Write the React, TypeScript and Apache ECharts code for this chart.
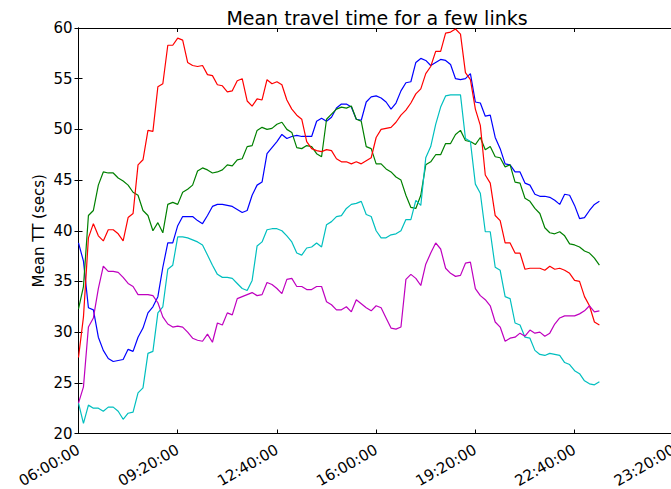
import React, { useEffect, useRef } from "react";
import * as echarts from "echarts";

// Mean travel time (secs) sampled every 10 minutes from 06:00
const STEP_MIN = 10;

const blueTT = [
  38.8, 37.0, 32.4, 32.2, 29.5, 28.2, 27.4, 27.1, 27.2, 27.3,
  28.3, 28.1, 29.5, 30.4, 31.9, 32.5, 33.5, 36.4, 38.8, 38.8,
  40.5, 41.4, 41.4, 41.4, 41.0, 40.7, 41.5, 42.4, 42.6, 42.6,
  42.5, 42.4, 42.1, 41.8, 42.0, 43.5, 44.5, 44.8, 47.6, 48.2,
  48.8, 49.5, 49.1, 49.3, 49.4, 49.3, 49.3, 49.3, 50.8, 51.1,
  50.8, 51.2, 52.1, 52.5, 52.5, 52.2, 51.0, 50.9, 52.7, 53.2,
  53.3, 53.1, 52.7, 52.0, 52.6, 53.8, 54.6, 54.7, 56.6, 57.0,
  56.8, 56.3, 56.6, 56.9, 56.8, 56.4, 55.0, 54.9, 55.0, 55.5,
  52.7, 52.6, 51.3, 51.4, 49.2, 48.1, 46.6, 46.5, 45.8, 45.8,
  44.7, 44.5, 43.6, 43.4, 43.4, 43.3, 43.0, 42.6, 43.6, 43.5,
  42.5, 41.2, 41.3, 42.0, 42.6, 42.9,
];

const greenTT = [
  32.3, 34.5, 41.5, 42.0, 44.5, 45.8, 45.7, 45.7, 45.2, 44.9,
  44.5, 43.8, 43.5, 42.0, 41.5, 40.0, 40.8, 39.8, 42.6, 42.8,
  42.6, 43.8, 44.1, 44.5, 45.9, 46.2, 46.0, 45.7, 45.8, 46.0,
  46.5, 46.4, 47.0, 47.1, 48.3, 48.4, 49.9, 50.2, 50.0, 50.1,
  50.5, 50.7, 50.0, 49.7, 48.2, 48.1, 48.4, 48.3, 47.6, 47.3,
  51.0, 51.5, 52.0, 52.2, 52.1, 52.3, 51.0, 50.8, 48.3, 48.1,
  46.6, 46.6, 46.1, 45.8, 45.3, 45.0, 43.5, 42.3, 42.2, 43.5,
  46.5, 46.8, 47.5, 47.5, 48.6, 48.6, 49.5, 49.9, 48.9, 48.8,
  48.5, 49.2, 48.0, 48.3, 47.3, 47.2, 46.3, 46.5, 44.8, 44.7,
  43.2, 42.9, 42.2, 41.7, 40.3, 39.8, 39.7, 39.9, 39.5, 38.7,
  38.6, 38.4, 38.0, 37.8, 37.3, 36.6,
];

const redTT = [
  27.5, 31.5, 39.3, 40.7, 39.5, 39.0, 40.1, 40.1, 39.7, 39.0,
  41.3, 41.7, 46.5, 47.0, 49.9, 49.8, 54.2, 54.5, 58.3, 58.3,
  59.0, 58.8, 56.6, 56.3, 56.2, 56.3, 55.4, 55.3, 54.4, 54.3,
  53.7, 53.8, 54.8, 55.0, 52.8, 52.3, 53.0, 52.9, 54.9, 54.5,
  54.7, 54.4, 52.9, 52.0, 51.4, 51.0, 48.8, 48.1, 47.9, 47.8,
  48.0, 47.9, 47.1, 46.8, 46.8, 46.6, 46.8, 46.6, 46.9, 47.2,
  49.2, 50.0, 50.1, 50.2, 50.7, 51.4, 51.9, 52.6, 53.5, 54.0,
  55.5, 56.2, 57.7, 57.7, 59.5, 59.6, 59.9, 59.4, 55.6, 54.9,
  52.0, 50.4, 45.5, 44.7, 41.5, 41.0, 38.8, 38.8, 37.8, 37.8,
  36.2, 36.3, 36.3, 36.3, 36.1, 36.5, 36.2, 36.3, 36.1, 35.8,
  35.1, 35.0, 33.5, 32.6, 31.0, 30.7,
];

const cyanTT = [
  23.0, 21.0, 22.8, 22.5, 22.5, 22.2, 22.6, 22.6, 22.2, 21.4,
  22.0, 22.1, 24.0, 24.5, 27.9, 28.1, 31.9, 32.5, 36.2, 36.6,
  39.4, 39.4, 39.3, 39.1, 38.9, 38.6, 37.6, 36.6, 35.7, 35.4,
  35.4, 35.3, 34.8, 34.3, 34.1, 35.1, 38.5, 38.9, 40.1, 40.2,
  40.2, 40.0, 39.5, 38.9, 37.8, 37.6, 38.3, 38.4, 38.8, 38.4,
  40.6, 40.9, 41.4, 41.5, 42.2, 42.6, 42.7, 42.9, 41.6, 41.4,
  40.0, 39.3, 39.3, 39.6, 39.7, 40.0, 41.1, 41.1, 43.0, 42.5,
  47.2, 48.3, 50.5, 52.2, 53.3, 53.4, 53.4, 53.4, 49.1, 48.8,
  44.6, 43.7, 39.9, 39.9, 36.4, 36.1, 33.5, 33.3, 30.9, 30.7,
  29.5, 29.4, 28.2, 27.8, 27.7, 27.9, 27.8, 27.7, 27.0, 26.8,
  26.2, 25.9, 25.2, 24.9, 24.8, 25.1,
];

const magentaTT = [
  23.0, 24.6, 30.5, 31.4, 34.3, 36.5, 36.0, 36.0, 35.9, 35.4,
  34.8, 34.5, 33.7, 33.7, 33.7, 33.6, 32.9, 31.5, 30.8, 30.5,
  30.6, 30.5, 30.0, 29.4, 29.2, 29.1, 29.8, 29.0, 30.9, 30.7,
  31.9, 31.7, 33.3, 33.5, 33.7, 33.9, 33.6, 33.7, 34.9, 34.7,
  34.3, 33.8, 35.2, 35.3, 34.5, 34.5, 34.2, 34.2, 34.5, 34.5,
  33.0, 32.7, 32.2, 32.2, 32.5, 32.0, 33.2, 32.8, 32.4, 32.1,
  32.6, 32.4, 31.4, 30.4, 30.3, 30.5, 35.2, 35.7, 35.3, 34.6,
  36.7, 37.8, 38.8, 38.2, 36.3, 35.8, 35.5, 35.6, 36.8, 36.9,
  34.3, 33.6, 33.2, 32.6, 31.0, 30.5, 29.1, 29.4, 29.5, 29.9,
  29.6, 30.2, 29.9, 30.0, 29.6, 29.9, 30.8, 31.4, 31.6, 31.6,
  31.6, 31.8, 32.1, 32.6, 32.0, 32.1,
];

const xTickLabels = [
  "06:00:00", "09:20:00", "12:40:00", "16:00:00", "19:20:00", "22:40:00", "23:20:00",
];
const X_TICK_STEP = 200; // minutes between labelled ticks
const yTicks = [20, 25, 30, 35, 40, 45, 50, 55, 60];

const seriesDefs = [
  { name: "link 1", color: "#0000ff", values: blueTT },
  { name: "link 2", color: "#008000", values: greenTT },
  { name: "link 3", color: "#ff0000", values: redTT },
  { name: "link 4", color: "#00bfbf", values: cyanTT },
  { name: "link 5", color: "#bf00bf", values: magentaTT },
];

const FONT = "DejaVu Sans";

export default function App() {
  const ref = useRef<HTMLDivElement>(null);

  useEffect(() => {
    if (!ref.current) return;
    const chart = echarts.init(ref.current, undefined, { renderer: "svg" });
    const xMax = X_TICK_STEP * (xTickLabels.length - 1);
    const yMin = yTicks[0];
    const yMax = yTicks[yTicks.length - 1];
    const yInterval = yTicks[1] - yTicks[0];

    const tickStyle = { show: true, inside: true, length: 4, lineStyle: { color: "#000", width: 1 } };
    const lineStyle = { show: true, lineStyle: { color: "#000", width: 1 } };

    chart.setOption({
      animation: false,
      backgroundColor: "#ffffff",
      textStyle: { fontFamily: FONT },
      title: {
        text: "Mean travel time for a few links",
        left: 372,
        textAlign: "center",
        top: 3,
        textStyle: { fontFamily: FONT, fontSize: 19, fontWeight: "normal", color: "#000" },
      },
      grid: {
        left: 78.5,
        top: 28,
        right: -2.8,
        bottom: 55.5,
        containLabel: false,
        outerBoundsMode: "none",
      },
      xAxis: [
        {
          type: "value",
          min: 0,
          max: xMax,
          interval: X_TICK_STEP,
          position: "bottom",
          axisLine: lineStyle,
          axisTick: tickStyle,
          splitLine: { show: false },
          axisLabel: {
            rotate: 30,
            margin: 15,
            fontFamily: FONT,
            fontSize: 15,
            color: "#000",
            showMinLabel: true,
            showMaxLabel: true,
            formatter: (v: number) => xTickLabels[Math.round(v / X_TICK_STEP)] ?? "",
          },
        },
        {
          type: "value",
          min: 0,
          max: xMax,
          interval: X_TICK_STEP,
          position: "top",
          axisLine: lineStyle,
          axisTick: tickStyle,
          splitLine: { show: false },
          axisLabel: { show: false },
        },
      ],
      yAxis: [
        {
          type: "value",
          min: yMin,
          max: yMax,
          interval: yInterval,
          position: "left",
          name: "Mean TT (secs)",
          nameLocation: "middle",
          nameGap: 32,
          nameMoveOverlap: false,
          nameTextStyle: { fontFamily: FONT, fontSize: 15, color: "#000" },
          axisLine: lineStyle,
          axisTick: tickStyle,
          splitLine: { show: false },
          axisLabel: { margin: 6, fontFamily: FONT, fontSize: 15, color: "#000" },
        },
        {
          type: "value",
          min: yMin,
          max: yMax,
          interval: yInterval,
          position: "right",
          axisLine: lineStyle,
          axisTick: tickStyle,
          splitLine: { show: false },
          axisLabel: { show: false },
        },
      ],
      series: seriesDefs.map((s) => ({
        name: s.name,
        type: "line",
        xAxisIndex: 0,
        yAxisIndex: 0,
        showSymbol: false,
        symbol: "none",
        lineStyle: { color: s.color, width: 1.2 },
        itemStyle: { color: s.color },
        data: s.values.map((v, i) => [i * STEP_MIN, v]),
      })),
    });

    return () => chart.dispose();
  }, []);

  return (
    <div
      ref={ref}
      style={{ position: "fixed", left: 0, top: 0, width: 671, height: 489, background: "#fff" }}
    />
  );
}
